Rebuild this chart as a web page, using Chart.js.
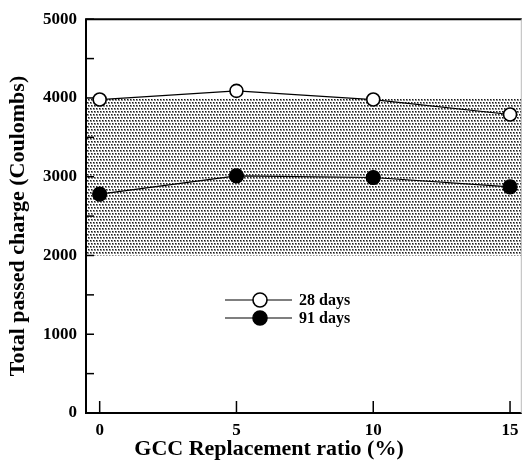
<!DOCTYPE html>
<html lang="en">
<head>
   <meta charset="UTF-8" />
   <title>Total passed charge vs GCC replacement ratio</title>
   <style>
      html, body {
         margin: 0;
         padding: 0;
         background: #ffffff;
         overflow: hidden;
      }
      .chart-box {
         width: 530px;
         height: 462px;
      }
   </style>
   <script src="https://cdn.jsdelivr.net/npm/chart.js@4.4.1/dist/chart.umd.min.js"></script>
</head>
<body>
   <div class="chart-box">
      <canvas id="chargeChart" width="530" height="462"></canvas>
   </div>

   <script>
      // values
      const ratios = [0, 5, 10, 15];
      const days28 = [3980, 4090, 3980, 3790];
      const days91 = [2780, 3010, 2990, 2870];
      const xTicks = [0, 5, 10, 15];
      const yLabels = [0, 1000, 2000, 3000, 4000, 5000];
      const bandLow = 2000;
      const bandHigh = 4000;
      const xMin = -0.5;
      const xMax = 15.43;

      const serif = '"Liberation Serif", "DejaVu Serif", serif';

      // stipple pattern for the shaded band
      function makeStipple() {
         const c = document.createElement('canvas');
         c.width = 6;
         c.height = 6;
         const g = c.getContext('2d');
         g.fillStyle = '#ffffff';
         g.fillRect(0, 0, 6, 6);
         const dots = [[0, 0], [3, 0], [1, 3], [4, 3]];
         dots.forEach(d => {
            g.fillStyle = '#8a8a8a';
            g.fillRect(d[0], d[1], 2, 2);
            g.fillStyle = '#1a1a1a';
            g.fillRect(d[0], d[1], 1, 1);
         });
         return g.createPattern(c, 'repeat');
      }

      const toPoints = (xs, ys) => xs.map((x, i) => ({ x: x, y: ys[i] }));

      // frame, inward ticks, axis titles and the in-plot legend
      const framePlugin = {
         id: 'frame',
         afterDatasetsDraw(chart) {
            const ctx = chart.ctx;
            const a = chart.chartArea;
            const xs = chart.scales.x;
            const ys = chart.scales.y;
            ctx.save();
            ctx.strokeStyle = '#000';
            ctx.lineWidth = 2;
            ctx.beginPath();
            ctx.moveTo(a.right, a.top);
            ctx.lineTo(a.left, a.top);
            ctx.lineTo(a.left, a.bottom);
            ctx.lineTo(a.right, a.bottom);
            ctx.stroke();
            ctx.lineWidth = 1;
            ctx.strokeStyle = '#bbb';
            ctx.beginPath();
            ctx.moveTo(a.right - 0.5, a.top);
            ctx.lineTo(a.right - 0.5, a.bottom);
            ctx.stroke();

            // y ticks every 500, pointing in
            ctx.strokeStyle = '#000';
            ctx.lineWidth = 1.5;
            ys.ticks.forEach(t => {
               const py = ys.getPixelForValue(t.value);
               ctx.beginPath();
               ctx.moveTo(a.left, py);
               ctx.lineTo(a.left + 8, py);
               ctx.stroke();
            });
            // x ticks pointing up
            xs.ticks.forEach(t => {
               const px = xs.getPixelForValue(t.value);
               ctx.beginPath();
               ctx.moveTo(px, a.bottom);
               ctx.lineTo(px, a.bottom - 12);
               ctx.stroke();
            });

            // axis titles
            ctx.fillStyle = '#000';
            ctx.font = 'bold 22px ' + serif;
            ctx.textAlign = 'center';
            ctx.textBaseline = 'middle';
            ctx.fillText('GCC Replacement ratio (%)', 269, 449);
            ctx.save();
            ctx.translate(18, 226);
            ctx.rotate(-Math.PI / 2);
            ctx.fillText('Total passed charge (Coulombs)', 0, 0);
            ctx.restore();

            // legend
            const entries = [
               { label: '28 days', fill: '#ffffff', y: 300 },
               { label: '91 days', fill: '#000000', y: 318 }
            ];
            ctx.font = 'bold 16px ' + serif;
            ctx.textBaseline = 'middle';
            ctx.textAlign = 'left';
            entries.forEach(e => {
               ctx.lineWidth = 1.2;
               ctx.strokeStyle = '#000';
               ctx.beginPath();
               ctx.moveTo(225, e.y);
               ctx.lineTo(292, e.y);
               ctx.stroke();
               ctx.beginPath();
               ctx.arc(260, e.y, 7, 0, Math.PI * 2);
               ctx.fillStyle = e.fill;
               ctx.fill();
               ctx.lineWidth = 1.6;
               ctx.stroke();
               ctx.fillStyle = '#000';
               ctx.fillText(e.label, 299, e.y + 1);
            });
            ctx.restore();
         }
      };

      const ctx = document.getElementById('chargeChart').getContext('2d');
      new Chart(ctx, {
         type: 'scatter',
         data: {
            datasets: [
               {
                  label: '28 days',
                  data: toPoints(ratios, days28),
                  showLine: true,
                  borderColor: '#000',
                  borderWidth: 1.2,
                  pointRadius: 6.5,
                  pointBorderWidth: 1.6,
                  pointBackgroundColor: '#ffffff',
                  pointBorderColor: '#000'
               },
               {
                  label: '91 days',
                  data: toPoints(ratios, days91),
                  showLine: true,
                  borderColor: '#000',
                  borderWidth: 1.2,
                  pointRadius: 7,
                  pointBackgroundColor: '#000',
                  pointBorderColor: '#000'
               },
               {
                  label: 'band',
                  data: [{ x: xMin, y: bandHigh }, { x: xMax, y: bandHigh }],
                  showLine: true,
                  borderWidth: 0,
                  pointRadius: 0,
                  backgroundColor: makeStipple(),
                  fill: { value: bandLow }
               }
            ]
         },
         options: {
            responsive: false,
            animation: false,
            layout: {
               padding: { top: 15, right: 1, bottom: 0, left: 0 }
            },
            plugins: {
               legend: { display: false },
               tooltip: { enabled: false }
            },
            scales: {
               x: {
                  type: 'linear',
                  min: xMin,
                  max: xMax,
                  afterBuildTicks: s => { s.ticks = xTicks.map(v => ({ value: v })); },
                  afterFit: s => { s.height = 49; },
                  grid: { display: false, drawTicks: false },
                  border: { display: false },
                  ticks: {
                     padding: 7,
                     color: '#000',
                     font: { family: serif, size: 17, weight: 'bold' }
                  }
               },
               y: {
                  min: 0,
                  max: 5000,
                  afterFit: s => { s.width = 86; },
                  grid: { display: false, drawTicks: false },
                  border: { display: false },
                  ticks: {
                     stepSize: 500,
                     padding: 9,
                     color: '#000',
                     font: { family: serif, size: 17, weight: 'bold' },
                     callback: v => (yLabels.includes(v) ? String(v) : '')
                  }
               }
            }
         },
         plugins: [framePlugin]
      });
   </script>
</body>
</html>
